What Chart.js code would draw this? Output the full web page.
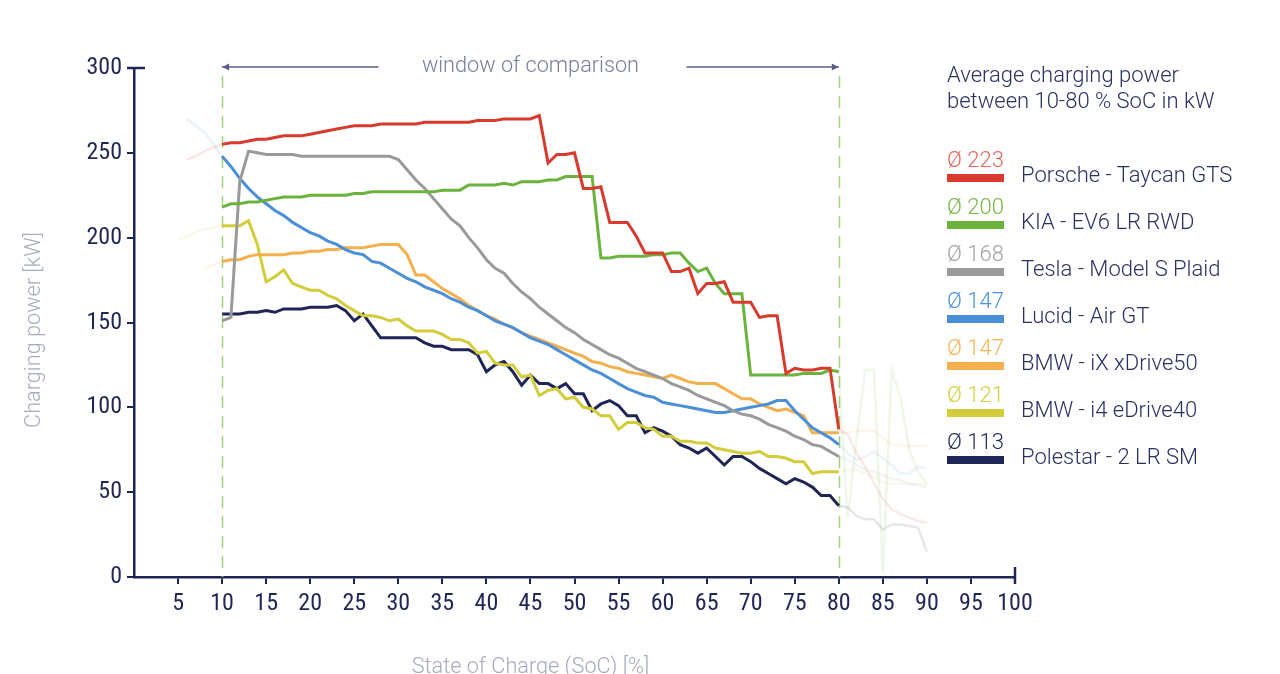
<!DOCTYPE html>
<html><head><meta charset="utf-8">
<script src="https://cdn.jsdelivr.net/npm/chart.js@4.4.1/dist/chart.umd.min.js"></script>
<style>
html,body{margin:0;padding:0;background:#fff;}
#wrap{position:relative;width:1280px;height:674px;overflow:hidden;background:#fff;}
#c{position:absolute;left:0;top:0;}
#legend{position:absolute;left:947px;top:62px;font-family:Roboto,sans-serif;font-weight:300;color:#2b3062;}
.lt{font-size:22px;line-height:26px;white-space:nowrap;}
.entry{position:absolute;left:0;width:320px;height:40px;}
.val{position:absolute;left:0;top:0;font-size:22px;line-height:26px;white-space:nowrap;}
.bar{position:absolute;left:0;top:27px;width:57px;height:8px;}
.lab{position:absolute;left:74px;top:15px;font-size:22px;line-height:26px;white-space:nowrap;}
</style></head>
<body>
<div id="wrap">
<canvas id="c" width="1280" height="674"></canvas>
<div id="legend"></div>
</div>
<script>
// ---- categories / ticks ----
const soc = [10,11,12,13,14,15,16,17,18,19,20,21,22,23,24,25,26,27,28,29,30,31,32,33,34,35,36,37,38,39,40,41,42,43,44,45,46,47,48,49,50,51,52,53,54,55,56,57,58,59,60,61,62,63,64,65,66,67,68,69,70,71,72,73,74,75,76,77,78,79,80];
const preSoc = [5,6,7,8,9,10];
const postSoc = [80,81,82,83,84,85,86,87,88,89,90];
const xTickValues = [5,10,15,20,25,30,35,40,45,50,55,60,65,70,75,80,85,90,95,100];
const yTickValues = [0,50,100,150,200,250,300];

// ---- series (kW) within window 10-80 % ----
const porsche = [255,256,256,257,258,258,259,260,260,260,261,262,263,264,265,266,266,266,267,267,267,267,267,268,268,268,268,268,268,269,269,269,270,270,270,270,272,244,249,249,250,229,229,230,209,209,209,201,191,191,191,180,180,182,167,173,173,174,162,162,162,153,154,154,120,123,122,122,123,123,87];
const kia = [218,220,220,221,221,222,223,224,224,224,225,225,225,225,225,226,226,227,227,227,227,227,227,227,227,228,228,228,231,231,231,231,232,231,233,233,233,234,234,236,236,236,236,188,188,189,189,189,189,190,190,191,191,185,180,182,173,167,167,167,119,119,119,119,119,119,120,120,120,122,121];
const tesla = [151,153,233,251,250,249,249,249,249,248,248,248,248,248,248,248,248,248,248,248,246,240,234,229,223,217,211,207,200,194,187,182,179,173,168,164,159,155,151,147,144,140,137,134,131,129,126,123,121,119,117,114,112,110,107,105,103,101,98,96,95,93,90,88,86,83,81,78,77,74,71];
const lucid = [248,242,235,229,224,220,216,213,209,206,203,201,198,196,193,191,190,186,185,182,179,176,174,171,169,167,164,162,159,157,154,151,149,147,144,141,139,137,134,131,128,125,122,120,117,114,111,109,107,106,103,102,101,100,99,98,97,97,98,99,100,101,102,104,104,98,93,88,85,82,78];
const bmwIX = [186,187,187,189,190,190,190,190,191,191,192,192,193,193,194,194,194,195,196,196,196,190,178,178,174,170,167,164,160,157,154,152,149,147,144,142,140,138,136,134,132,130,127,126,124,123,121,120,119,118,117,119,117,115,114,114,114,111,108,105,105,102,100,98,99,97,95,85,85,85,85];
const bmwI4 = [207,207,207,210,196,174,177,181,173,171,169,169,166,164,160,157,154,154,153,151,152,148,145,145,145,143,140,140,138,132,133,126,125,125,118,119,107,110,111,105,106,100,99,95,95,87,91,91,88,87,83,83,80,80,79,79,76,75,74,73,73,74,71,71,70,68,68,61,62,62,62];
const polestar = [155,155,155,156,156,157,156,158,158,158,159,159,159,160,157,151,155,148,141,141,141,141,141,138,136,136,134,134,134,131,121,125,127,121,113,119,114,114,111,114,108,108,98,102,104,101,95,95,85,88,86,83,78,76,73,76,71,66,71,71,68,64,61,58,55,58,56,53,48,48,42];

// ---- faded data outside the window ----
const porschePre = [null,246,248,251,253,255];
const lucidPre = [null,270,266,262,255,248];
const bmwIXPre = [null,null,null,182,184,186];
const bmwI4Pre = [199,201,203,205,206,207];
const porschePost = [87,84,73,65,55,46,40,37,35,33,32];
const kiaPost = [121,35,80,122,122,2,122,106,75,62,55];
const teslaPost = [71,69,66,63,62,60,58,57,55,54,53];
const lucidPost = [78,73,69,71,74,70,66,61,61,65,64];
const bmwIXPost = [85,85,86,86,86,82,78,78,77,77,77];
const bmwI4Post = [62,63,63,61,59,56,55,55,55,55,55];
const polestarPost = [42,41,36,34,34,28,31,31,30,29,15];

// ---- legend ----
const seriesNames = ['Porsche - Taycan GTS','KIA - EV6 LR RWD','Tesla - Model S Plaid','Lucid - Air GT','BMW - iX xDrive50','BMW - i4 eDrive40','Polestar - 2 LR SM'];
const seriesAvg = [223,200,168,147,147,121,113];
const lineColors = ['#d93a2e','#6cb33e','#9a9a9a','#4a8fd8','#f3b04c','#d3cd3b','#1f2554'];
const avgColors = ['#e8675f','#79b548','#a3a3a3','#4a93db','#f5b456','#d5cf42','#1f2554'];

const NAVY = '#1f2554';
const mainSeries = [porsche,kia,tesla,lucid,bmwIX,bmwI4,polestar];
const preSeries = [porschePre,null,null,lucidPre,bmwIXPre,bmwI4Pre,null];
const postSeries = [porschePost,kiaPost,teslaPost,lucidPost,bmwIXPost,bmwI4Post,polestarPost];

function fade(hex,a){const n=parseInt(hex.slice(1),16);return `rgba(${(n>>16)&255},${(n>>8)&255},${n&255},${a})`;}
function pts(xs,ys){return xs.map((x,i)=>({x:x,y:ys[i]})).filter(p=>p.y!==null);}

const datasets = [];
mainSeries.forEach((s,i)=>{
  datasets.push({label:seriesNames[i],data:pts(soc,s),borderColor:lineColors[i],borderWidth:3,pointRadius:0,tension:0,order:i});
});
preSeries.forEach((s,i)=>{ if(s) datasets.push({label:seriesNames[i]+' pre',data:pts(preSoc,s),borderColor:fade(lineColors[i],0.12),borderWidth:2.5,pointRadius:0,tension:0,order:20+i}); });
postSeries.forEach((s,i)=>{ if(s) datasets.push({label:seriesNames[i]+' post',data:pts(postSoc,s),borderColor:fade(lineColors[i],0.11),borderWidth:2.5,pointRadius:0,tension:0,order:30+i}); });

// legend html
const lg = document.getElementById('legend');
lg.innerHTML = '<div class="lt">Average charging power</div><div class="lt">between 10-80 % SoC in kW</div>';
seriesNames.forEach((n,i)=>{
  const e=document.createElement('div');e.className='entry';e.style.top=(85+i*47)+'px';
  e.innerHTML=`<div class="val" style="color:${avgColors[i]}">Ø ${seriesAvg[i]}</div><div class="bar" style="background:${lineColors[i]}"></div><div class="lab">${n}</div>`;
  lg.appendChild(e);
});

const deco = {
  id:'deco',
  beforeDatasetsDraw(chart){
    const {ctx,scales:{x,y},chartArea} = chart;
    ctx.save();
    ctx.strokeStyle='#a6d17f';ctx.lineWidth=1.5;ctx.setLineDash([12,8]);
    [10,80].forEach(v=>{const px=Math.round(x.getPixelForValue(v))+0.5;ctx.beginPath();ctx.moveTo(px,chartArea.top+8);ctx.lineTo(px,chartArea.bottom);ctx.stroke();});
    ctx.restore();
  },
  afterDraw(chart){
    const {ctx,scales:{x,y},chartArea} = chart;
    ctx.save();
    const x10=x.getPixelForValue(10), x80=x.getPixelForValue(80);
    const ay = chartArea.top-1;
    const mid=(x10+x80)/2;
    ctx.strokeStyle='#5b6088';ctx.fillStyle='#5b6088';ctx.lineWidth=1.3;
    ctx.beginPath();ctx.moveTo(x10,ay);ctx.lineTo(mid-152,ay);ctx.moveTo(mid+156,ay);ctx.lineTo(x80,ay);ctx.stroke();
    ctx.beginPath();ctx.moveTo(x10,ay);ctx.lineTo(x10+7,ay-3.5);ctx.lineTo(x10+7,ay+3.5);ctx.closePath();ctx.fill();
    ctx.beginPath();ctx.moveTo(x80,ay);ctx.lineTo(x80-7,ay-3.5);ctx.lineTo(x80-7,ay+3.5);ctx.closePath();ctx.fill();
    ctx.font='300 21.7px Roboto';ctx.fillStyle='#787c9c';ctx.textAlign='center';ctx.textBaseline='middle';
    ctx.fillText('window of comparison',mid,ay);
    ctx.fillStyle='#a7abbd';
    ctx.fillText('State of Charge (SoC) [%]',mid,668);
    // y axis title
    ctx.save();ctx.translate(35,330);ctx.rotate(-Math.PI/2);
    ctx.fillText('Charging power [kW]',0,0);
    ctx.restore();
    // axis caps
    ctx.strokeStyle=NAVY;ctx.lineWidth=2.5;
    const yt=y.getPixelForValue(300);
    ctx.beginPath();ctx.moveTo(chartArea.left-7,yt);ctx.lineTo(chartArea.left+11,yt);ctx.stroke();
    const xr=x.getPixelForValue(100);
    ctx.beginPath();ctx.moveTo(xr,chartArea.bottom-10);ctx.lineTo(xr,chartArea.bottom+7);ctx.stroke();
    ctx.restore();
  }
};

const tickFont = {family:"'Liberation Sans Narrow','Roboto Condensed','DejaVu Sans Condensed',Roboto",size:24,weight:'normal'};

new Chart(document.getElementById('c'),{
  type:'line',
  data:{datasets:datasets},
  options:{
    responsive:false,animation:false,devicePixelRatio:1,
    layout:{padding:{top:68,right:265,left:0,bottom:0}},
    plugins:{legend:{display:false},tooltip:{enabled:false}},
    scales:{
      x:{type:'linear',min:0,max:100,
        afterBuildTicks(s){s.ticks=xTickValues.map(v=>({value:v}));},
        afterFit(s){s.height=97;},
        ticks:{color:NAVY,font:tickFont,padding:6,maxRotation:0,autoSkip:false},
        grid:{drawOnChartArea:false,drawTicks:true,tickLength:7,color:NAVY,lineWidth:2},
        border:{color:NAVY,width:2.5}
      },
      y:{type:'linear',min:0,max:300,
        afterBuildTicks(s){s.ticks=yTickValues.map(v=>({value:v}));},
        afterFit(s){s.width=134;},
        ticks:{color:NAVY,font:tickFont,padding:5},
        grid:{drawOnChartArea:false,drawTicks:true,tickLength:7,color:NAVY,lineWidth:2},
        border:{color:NAVY,width:2.5}
      }
    }
  },
  plugins:[deco]
});
</script>
</body></html>
